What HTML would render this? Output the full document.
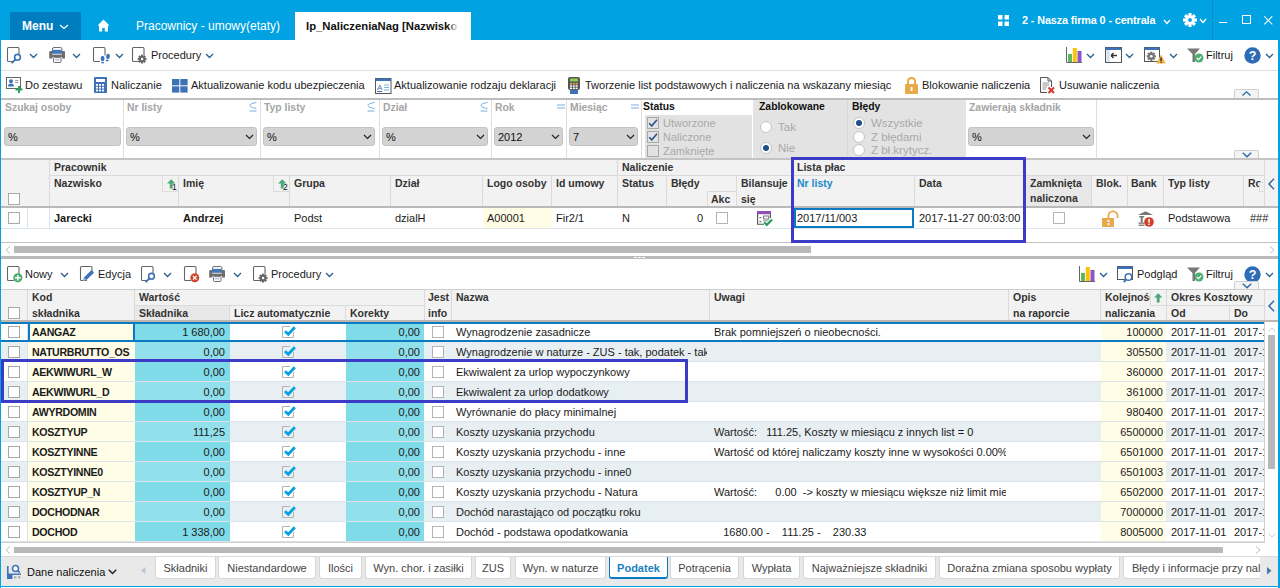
<!DOCTYPE html><html><head><meta charset="utf-8"><style>
*{box-sizing:border-box}
html,body{margin:0;padding:0}
body{width:1280px;height:588px;overflow:hidden;position:relative;background:#fff;font-family:"Liberation Sans",sans-serif;color:#1a1a1a}
.t{position:absolute;white-space:nowrap;font-size:11px;line-height:14px}
.b{font-weight:bold}
.hd{position:absolute;white-space:nowrap;font-size:10.5px;line-height:14px;font-weight:bold;color:#333}
.vl{position:absolute;width:1px;background:#d9d9d9}
.hl{position:absolute;height:1px;background:#d9d9d9}
svg{position:absolute;overflow:visible}
</style></head><body>
<div style="position:absolute;left:0px;top:0px;width:1280px;height:40px;background:#00a2e1"></div><div style="position:absolute;left:10px;top:12px;width:71px;height:28px;background:#007dbf;border-radius:2px 2px 0 0"></div><div class="t" style="left:22px;top:18px;font-size:12px;font-weight:bold;color:#fff;line-height:16px">Menu</div><svg style="position:absolute;left:59px;top:24px" width="10" height="6" viewBox="0 0 10 6"><path d="M1 1 L5.0 4.5 L9 1" fill="none" stroke="#fff" stroke-width="1.3"/></svg><svg style="left:97px;top:19px" width="13" height="13" viewBox="0 0 13 13"><path d="M6.5 0.5 L12.5 6.5 L11 6.5 L11 12.5 L7.8 12.5 L7.8 9 L5.2 9 L5.2 12.5 L2 12.5 L2 6.5 L0.5 6.5 Z" fill="#fff"/></svg><div class="t" style="left:136px;top:18px;font-size:12px;color:#fff;line-height:16px">Pracownicy - umowy(etaty)</div><div style="position:absolute;left:295px;top:12px;width:176px;height:28px;background:#fff"></div><div style="position:absolute;left:306px;top:18px;width:154px;height:16px;overflow:hidden;"><div class="t" style="left:0;top:0;font-size:11.3px;font-weight:bold;line-height:16px;color:#111">Ip_NaliczeniaNag [Nazwisko</div><div style="position:absolute;right:0;top:0;width:12px;height:16px;background:linear-gradient(90deg,rgba(255,255,255,0),#fff 85%)"></div></div><svg style="left:998px;top:15px" width="11" height="11" viewBox="0 0 11 11"><rect x="0" y="0" width="4.5" height="4.5" fill="#fff"/><rect x="6.5" y="0" width="4.5" height="4.5" fill="#fff"/><rect x="0" y="6.5" width="4.5" height="4.5" fill="#fff"/><rect x="6.5" y="6.5" width="4.5" height="4.5" fill="#fff"/></svg><div class="t" style="left:1022px;top:13px;font-size:10.8px;letter-spacing:-0.1px;font-weight:bold;color:#fff;line-height:14px">2 - Nasza firma 0 - centrala</div><svg style="position:absolute;left:1163px;top:19px" width="8" height="6" viewBox="0 0 8 6"><path d="M1 1 L4.0 4.5 L7 1" fill="none" stroke="#fff" stroke-width="1.3"/></svg><svg style="left:1183px;top:13px" width="14" height="14" viewBox="-7 -7 14 14"><g fill="#fff"><circle r="4.6"/><rect x="-1.6" y="-7" width="3.2" height="3.4" transform="rotate(0)"/><rect x="-1.6" y="-7" width="3.2" height="3.4" transform="rotate(45)"/><rect x="-1.6" y="-7" width="3.2" height="3.4" transform="rotate(90)"/><rect x="-1.6" y="-7" width="3.2" height="3.4" transform="rotate(135)"/><rect x="-1.6" y="-7" width="3.2" height="3.4" transform="rotate(180)"/><rect x="-1.6" y="-7" width="3.2" height="3.4" transform="rotate(225)"/><rect x="-1.6" y="-7" width="3.2" height="3.4" transform="rotate(270)"/><rect x="-1.6" y="-7" width="3.2" height="3.4" transform="rotate(315)"/></g><circle r="1.9" fill="#00a2e1"/></svg><svg style="position:absolute;left:1199px;top:18px" width="8" height="6" viewBox="0 0 8 6"><path d="M1 1 L4.0 4.5 L7 1" fill="none" stroke="#fff" stroke-width="1.3"/></svg><div style="position:absolute;left:1212px;top:0px;width:1px;height:40px;background:#0a8cc4"></div><div style="position:absolute;left:1219px;top:22px;width:8px;height:1.2px;background:#fff"></div><div style="position:absolute;left:1242px;top:15px;width:8.5px;height:8.5px;border:1.2px solid #fff"></div><svg style="left:1264px;top:16px" width="9" height="9" viewBox="0 0 9 9"><path d="M0.3 0.3 L8.3 8.3 M8.3 0.3 L0.3 8.3" stroke="#fff" stroke-width="1.1"/></svg><svg style="left:7px;top:47px" width="13" height="16" viewBox="0 0 13 16"><path d="M7 14.5 L1.5 14.5 Q0.5 14.5 0.5 13.5 L0.5 1.5 Q0.5 0.5 1.5 0.5 L11 0.5 Q12 0.5 12 1.5 L12 8.5" fill="none" stroke="#666" stroke-width="1.1"/></svg><svg style="left:0;top:0" width="1280" height="588" viewBox="0 0 1280 588" ><circle cx="17.5" cy="57.3" r="2.9" fill="#fff" stroke="#3d72b8" stroke-width="1.6"/><path d="M15.411999999999999 59.388 L12.2 62.599999999999994" stroke="#3d72b8" stroke-width="2" stroke-linecap="round"/></svg><svg style="position:absolute;left:29px;top:53px" width="9" height="6" viewBox="0 0 9 6"><path d="M1 1 L4.5 4.5 L8 1" fill="none" stroke="#2a5d8f" stroke-width="1.3"/></svg><svg style="left:49px;top:47px" width="17" height="16" viewBox="0 0 17 16"><path d="M3.5 3.5 L3.5 2 Q3.5 0.5 5 0.5 L11.5 0.5 Q13 0.5 13 2 L13 3.5" fill="none" stroke="#6e6e6e" stroke-width="1"/><path d="M1.3 4 L15 4 Q16 4 16 5 L16 11.5 L13 11.5 L13 10 L3.5 10 L3.5 11.5 L0.2 11.5 L0.2 5 Q0.2 4 1.3 4 Z" fill="#6e6e6e"/><rect x="3.2" y="2.8" width="9.6" height="4" fill="#4577bd"/><rect x="3.2" y="6.8" width="9.6" height="0.8" fill="#fff"/><rect x="4.5" y="10.6" width="7.5" height="4.9" rx="0.8" fill="#fff" stroke="#6e6e6e" stroke-width="1"/><rect x="6" y="12.2" width="4.5" height="1.2" fill="#9db8da"/></svg><svg style="position:absolute;left:72px;top:53px" width="9" height="6" viewBox="0 0 9 6"><path d="M1 1 L4.5 4.5 L8 1" fill="none" stroke="#2a5d8f" stroke-width="1.3"/></svg><svg style="left:93px;top:47px" width="13" height="16" viewBox="0 0 13 16"><path d="M7 14.5 L1.5 14.5 Q0.5 14.5 0.5 13.5 L0.5 1.5 Q0.5 0.5 1.5 0.5 L11 0.5 Q12 0.5 12 1.5 L12 8.5" fill="none" stroke="#666" stroke-width="1.1"/></svg><svg style="left:99.5px;top:55px" width="10" height="10" viewBox="0 0 10 10"><ellipse cx="2.6" cy="3.4" rx="1.9" ry="2.7" fill="#3d72b8"/><ellipse cx="2.6" cy="7.6" rx="1.5" ry="0.9" fill="#3d72b8"/><ellipse cx="8" cy="1.4" rx="1.9" ry="2.7" fill="#3d72b8" transform="rotate(10 8 1.4)"/><ellipse cx="7.2" cy="5.4" rx="1.5" ry="0.9" fill="#3d72b8"/></svg><svg style="position:absolute;left:115px;top:53px" width="9" height="6" viewBox="0 0 9 6"><path d="M1 1 L4.5 4.5 L8 1" fill="none" stroke="#2a5d8f" stroke-width="1.3"/></svg><svg style="left:132px;top:47px" width="13" height="16" viewBox="0 0 13 16"><path d="M7 14.5 L1.5 14.5 Q0.5 14.5 0.5 13.5 L0.5 1.5 Q0.5 0.5 1.5 0.5 L11 0.5 Q12 0.5 12 1.5 L12 8.5" fill="none" stroke="#666" stroke-width="1.1"/></svg><svg style="left:137.3px;top:53.6px" width="10.2" height="10.2" viewBox="-5.1 -5.1 10.2 10.2"><circle r="5.1" fill="#fff" opacity="0"/><g fill="#666"><circle r="3.1"/><rect x="-1.1" y="-4.4" width="2.2" height="2.4" transform="rotate(0)"/><rect x="-1.1" y="-4.4" width="2.2" height="2.4" transform="rotate(45)"/><rect x="-1.1" y="-4.4" width="2.2" height="2.4" transform="rotate(90)"/><rect x="-1.1" y="-4.4" width="2.2" height="2.4" transform="rotate(135)"/><rect x="-1.1" y="-4.4" width="2.2" height="2.4" transform="rotate(180)"/><rect x="-1.1" y="-4.4" width="2.2" height="2.4" transform="rotate(225)"/><rect x="-1.1" y="-4.4" width="2.2" height="2.4" transform="rotate(270)"/><rect x="-1.1" y="-4.4" width="2.2" height="2.4" transform="rotate(315)"/></g><circle r="1.2400000000000002" fill="#fff"/></svg><div class="t" style="left:151px;top:48px;font-size:11px">Procedury</div><svg style="position:absolute;left:205px;top:53px" width="9" height="6" viewBox="0 0 9 6"><path d="M1 1 L4.5 4.5 L8 1" fill="none" stroke="#2a5d8f" stroke-width="1.3"/></svg><svg style="left:1066px;top:47px" width="17" height="17" viewBox="0 0 17 17"><path d="M0.5 0 L0.5 15.5 L16 15.5" fill="none" stroke="#666" stroke-width="1"/><rect x="2" y="7" width="4" height="8" fill="#5cb85c"/><rect x="6.8" y="1" width="4" height="14" fill="#ffc107"/><rect x="11.5" y="4" width="4" height="11" fill="#8a55c7"/></svg><svg style="position:absolute;left:1086px;top:53px" width="9" height="6" viewBox="0 0 9 6"><path d="M1 1 L4.5 4.5 L8 1" fill="none" stroke="#2a5d8f" stroke-width="1.3"/></svg><svg style="left:1105px;top:47px" width="17" height="16" viewBox="0 0 17 16"><rect x="0.5" y="0.5" width="16" height="15" fill="#fff" stroke="#555"/><rect x="0.5" y="0.5" width="16" height="2.5" fill="#3d72b8"/><rect x="1.5" y="3" width="3" height="12" fill="#cfe3f3"/><path d="M6 8.5 L12 8.5 M6 8.5 L8.5 6 M6 8.5 L8.5 11" stroke="#333" stroke-width="1.4" fill="none"/></svg><svg style="position:absolute;left:1125px;top:53px" width="9" height="6" viewBox="0 0 9 6"><path d="M1 1 L4.5 4.5 L8 1" fill="none" stroke="#2a5d8f" stroke-width="1.3"/></svg><svg style="left:1144px;top:47px" width="21" height="18" viewBox="0 0 21 18"><rect x="0.5" y="0.5" width="15" height="14" fill="#fff" stroke="#555"/><rect x="0.5" y="0.5" width="15" height="2.5" fill="#3d72b8"/></svg><svg style="left:1145.7px;top:50.7px" width="10.6" height="10.6" viewBox="-5.3 -5.3 10.6 10.6"><circle r="5.3" fill="#fff" opacity="0"/><g fill="#777"><circle r="3.3"/><rect x="-1.1" y="-4.6" width="2.2" height="2.4" transform="rotate(0)"/><rect x="-1.1" y="-4.6" width="2.2" height="2.4" transform="rotate(45)"/><rect x="-1.1" y="-4.6" width="2.2" height="2.4" transform="rotate(90)"/><rect x="-1.1" y="-4.6" width="2.2" height="2.4" transform="rotate(135)"/><rect x="-1.1" y="-4.6" width="2.2" height="2.4" transform="rotate(180)"/><rect x="-1.1" y="-4.6" width="2.2" height="2.4" transform="rotate(225)"/><rect x="-1.1" y="-4.6" width="2.2" height="2.4" transform="rotate(270)"/><rect x="-1.1" y="-4.6" width="2.2" height="2.4" transform="rotate(315)"/></g><circle r="1.32" fill="#fff"/></svg><svg style="left:1156px;top:54px" width="10" height="10" viewBox="0 0 10 10"><path d="M5 0.5 L9.8 9.5 L0.2 9.5 Z" fill="#f0b44c"/><rect x="4.4" y="3.5" width="1.3" height="3.5" fill="#222"/><rect x="4.4" y="7.6" width="1.3" height="1.2" fill="#222"/></svg><svg style="position:absolute;left:1169px;top:53px" width="9" height="6" viewBox="0 0 9 6"><path d="M1 1 L4.5 4.5 L8 1" fill="none" stroke="#2a5d8f" stroke-width="1.3"/></svg><svg style="left:1187px;top:48px" width="17" height="15" viewBox="0 0 17 15"><path d="M0 0.5 L13 0.5 L8 6 L8 14 L5.5 14 L5.5 6 Z" fill="#777"/><circle cx="12" cy="10" r="4.5" fill="#4caf72"/><path d="M9.8 10 L11.5 11.7 L14.3 8.6" stroke="#fff" stroke-width="1.2" fill="none"/></svg><div class="t" style="left:1206px;top:48px;font-size:11px">Filtruj</div><svg style="left:1244px;top:47px" width="17" height="17" viewBox="0 0 17 17"><circle cx="8.5" cy="8.5" r="8.2" fill="#2d6db5"/><text x="8.5" y="13" text-anchor="middle" font-family="Liberation Sans" font-weight="bold" font-size="12.5" fill="#fff">?</text></svg><svg style="position:absolute;left:1265px;top:53px" width="9" height="6" viewBox="0 0 9 6"><path d="M1 1 L4.5 4.5 L8 1" fill="none" stroke="#2a5d8f" stroke-width="1.3"/></svg><div style="position:absolute;left:1px;top:70px;width:1277px;height:1px;background:#e0e0e0"></div><svg style="left:6px;top:77px" width="17" height="16" viewBox="0 0 17 16"><rect x="0.5" y="0.5" width="14" height="11" fill="#fff" stroke="#666"/><circle cx="5" cy="4.2" r="2" fill="#3d72b8"/><path d="M2 9.5 Q2 6.5 5 6.5 Q8 6.5 8 9.5 Z" fill="#3d72b8"/><path d="M9 3.5 L12.5 3.5 M9 5.5 L12.5 5.5" stroke="#888" stroke-width="0.8"/><path d="M13 9 L13 16 M9.5 12.5 L16.5 12.5" stroke="#2e9e5e" stroke-width="2"/></svg><div class="t" style="left:25px;top:78px;">Do zestawu</div><svg style="left:94px;top:77px" width="13" height="16" viewBox="0 0 13 16"><rect x="0" y="0" width="13" height="16" rx="1" fill="#3d72b8"/><rect x="2" y="2" width="9" height="3" fill="#fff"/><rect x="2" y="7.0" width="2" height="1.8" fill="#fff"/><rect x="2" y="9.8" width="2" height="1.8" fill="#fff"/><rect x="2" y="12.6" width="2" height="1.8" fill="#fff"/><rect x="5" y="7.0" width="2" height="1.8" fill="#fff"/><rect x="5" y="9.8" width="2" height="1.8" fill="#fff"/><rect x="5" y="12.6" width="2" height="1.8" fill="#fff"/><rect x="8" y="7.0" width="2" height="1.8" fill="#fff"/><rect x="8" y="9.8" width="2" height="1.8" fill="#fff"/><rect x="8" y="12.6" width="2" height="1.8" fill="#fff"/></svg><div class="t" style="left:111px;top:78px;">Naliczanie</div><svg style="left:172px;top:79px" width="16" height="14" viewBox="0 0 16 14"><rect x="0" y="0" width="7.3" height="6.3" fill="#3d72b8"/><rect x="8.3" y="0" width="7.3" height="6.3" fill="#3d72b8"/><rect x="0" y="7.3" width="7.3" height="6.3" fill="#3d72b8"/><rect x="8.3" y="7.3" width="7.3" height="6.3" fill="#3d72b8"/></svg><div class="t" style="left:191px;top:78px;">Aktualizowanie kodu ubezpieczenia</div><svg style="left:375px;top:78px" width="17" height="16" viewBox="0 0 17 16"><rect x="0.5" y="0.5" width="15.5" height="15" fill="#fff" stroke="#555"/><rect x="0.5" y="0.5" width="15.5" height="2.5" fill="#3d72b8"/><text x="2" y="12" font-family="Liberation Sans" font-size="8" fill="#3d72b8">A</text><path d="M9 7 L14 7 M9 9.5 L14 9.5 M9 12 L14 12" stroke="#7fb3e0" stroke-width="1.2"/><path d="M2 13.5 L7 13.5" stroke="#3d72b8" stroke-width="1"/></svg><div class="t" style="left:394px;top:78px;">Aktualizowanie rodzaju deklaracji</div><svg style="left:568px;top:77px" width="13" height="17" viewBox="0 0 13 17"><rect x="0" y="0" width="12" height="13" rx="2" fill="#555"/><rect x="2" y="1.5" width="8" height="3" fill="#8bd34a"/><rect x="2.0" y="6.0" width="2" height="1.5" fill="#f0b44c"/><rect x="2.0" y="8.3" width="2" height="1.5" fill="#fff"/><rect x="2.0" y="10.6" width="2" height="1.5" fill="#fff"/><rect x="4.8" y="6.0" width="2" height="1.5" fill="#f0b44c"/><rect x="4.8" y="8.3" width="2" height="1.5" fill="#fff"/><rect x="4.8" y="10.6" width="2" height="1.5" fill="#fff"/><rect x="7.6" y="6.0" width="2" height="1.5" fill="#f0b44c"/><rect x="7.6" y="8.3" width="2" height="1.5" fill="#fff"/><rect x="7.6" y="10.6" width="2" height="1.5" fill="#fff"/><rect x="2" y="13" width="8" height="4" fill="#3d72b8"/></svg><div class="t" style="left:585px;top:78px;">Tworzenie list podstawowych i naliczenia na wskazany miesiąc</div><svg style="left:905px;top:77px" width="13" height="17" viewBox="0 0 13 17"><path d="M3 8 L3 4.5 Q3 1 6.5 1 Q10 1 10 4.5 L10 8" fill="none" stroke="#e8a94a" stroke-width="2"/><rect x="0" y="7" width="13" height="10" rx="1" fill="#e8a94a"/><rect x="5.7" y="10" width="1.8" height="4" fill="#fff"/></svg><div class="t" style="left:922px;top:78px;">Blokowanie naliczenia</div><svg style="left:1040px;top:77px" width="15" height="17" viewBox="0 0 15 17"><path d="M0.5 0.5 L8 0.5 L11.5 4 L11.5 10 M7 15.5 L0.5 15.5 Z" fill="#fff" stroke="#555"/><path d="M0.5 0.5 L0.5 15.5" stroke="#555"/><path d="M8 0.5 L8 4 L11.5 4" fill="none" stroke="#555"/><path d="M2.5 6 L9 6 M2.5 8 L9 8 M2.5 10 L7 10 M2.5 12 L6 12" stroke="#777" stroke-width="0.8"/><path d="M8.5 10.5 L14 16 M14 10.5 L8.5 16" stroke="#d6332a" stroke-width="2"/></svg><div class="t" style="left:1059px;top:78px;">Usuwanie naliczenia</div><div style="position:absolute;left:1px;top:98px;width:1277px;height:2px;background:#bdbdbd"></div><div style="position:absolute;left:123px;top:100px;width:1px;height:58px;background:#dedede"></div><div style="position:absolute;left:260px;top:100px;width:1px;height:58px;background:#dedede"></div><div style="position:absolute;left:379px;top:100px;width:1px;height:58px;background:#dedede"></div><div style="position:absolute;left:491px;top:100px;width:1px;height:58px;background:#dedede"></div><div style="position:absolute;left:566px;top:100px;width:1px;height:58px;background:#dedede"></div><div style="position:absolute;left:641px;top:100px;width:1px;height:58px;background:#dedede"></div><div class="hd" style="left:5px;top:101px;color:#a5a5a5;font-size:10.4px">Szukaj osoby</div><div style="position:absolute;left:4px;top:127px;width:117px;height:19px;background:#d3d3d3;border:1px solid #c2c2c2;border-radius:3px"></div><div class="t" style="left:8px;top:130px;font-size:11px;color:#111">%</div><div class="hd" style="left:127px;top:101px;color:#a5a5a5;font-size:10.4px">Nr listy</div><svg style="left:249px;top:102px" width="8" height="10" viewBox="0 0 8 10"><path d="M7.5 0.5 Q1 1.5 1 3.5 Q1 5.5 7.5 6.5 M0.5 9 L7.5 9" fill="none" stroke="#7aaee0" stroke-width="1"/></svg><div style="position:absolute;left:126px;top:127px;width:131px;height:19px;background:#d3d3d3;border:1px solid #c2c2c2;border-radius:3px"></div><div class="t" style="left:130px;top:130px;font-size:11px;color:#111">%</div><svg style="left:245px;top:134px" width="9" height="6" viewBox="0 0 9 6"><path d="M1 1 L4.5 4.5 L8 1" fill="none" stroke="#222" stroke-width="1.2"/></svg><div class="hd" style="left:264px;top:101px;color:#a5a5a5;font-size:10.4px">Typ listy</div><svg style="left:367px;top:102px" width="8" height="10" viewBox="0 0 8 10"><path d="M7.5 0.5 Q1 1.5 1 3.5 Q1 5.5 7.5 6.5 M0.5 9 L7.5 9" fill="none" stroke="#7aaee0" stroke-width="1"/></svg><div style="position:absolute;left:263px;top:127px;width:112px;height:19px;background:#d3d3d3;border:1px solid #c2c2c2;border-radius:3px"></div><div class="t" style="left:267px;top:130px;font-size:11px;color:#111">%</div><svg style="left:363px;top:134px" width="9" height="6" viewBox="0 0 9 6"><path d="M1 1 L4.5 4.5 L8 1" fill="none" stroke="#222" stroke-width="1.2"/></svg><div class="hd" style="left:383px;top:101px;color:#a5a5a5;font-size:10.4px">Dział</div><svg style="left:480px;top:102px" width="8" height="10" viewBox="0 0 8 10"><path d="M7.5 0.5 Q1 1.5 1 3.5 Q1 5.5 7.5 6.5 M0.5 9 L7.5 9" fill="none" stroke="#7aaee0" stroke-width="1"/></svg><div style="position:absolute;left:382px;top:127px;width:106px;height:19px;background:#d3d3d3;border:1px solid #c2c2c2;border-radius:3px"></div><div class="t" style="left:386px;top:130px;font-size:11px;color:#111">%</div><svg style="left:476px;top:134px" width="9" height="6" viewBox="0 0 9 6"><path d="M1 1 L4.5 4.5 L8 1" fill="none" stroke="#222" stroke-width="1.2"/></svg><div class="hd" style="left:495px;top:101px;color:#a5a5a5;font-size:10.4px">Rok</div><svg style="left:557px;top:104px" width="8" height="5" viewBox="0 0 8 5"><path d="M0 1 L8 1 M0 4 L8 4" stroke="#7aaee0" stroke-width="1"/></svg><div style="position:absolute;left:494px;top:127px;width:69px;height:19px;background:#d3d3d3;border:1px solid #c2c2c2;border-radius:3px"></div><div class="t" style="left:498px;top:130px;font-size:11px;color:#111">2012</div><svg style="left:551px;top:134px" width="9" height="6" viewBox="0 0 9 6"><path d="M1 1 L4.5 4.5 L8 1" fill="none" stroke="#222" stroke-width="1.2"/></svg><div class="hd" style="left:570px;top:101px;color:#a5a5a5;font-size:10.4px">Miesiąc</div><svg style="left:631px;top:104px" width="8" height="5" viewBox="0 0 8 5"><path d="M0 1 L8 1 M0 4 L8 4" stroke="#7aaee0" stroke-width="1"/></svg><div style="position:absolute;left:569px;top:127px;width:69px;height:19px;background:#d3d3d3;border:1px solid #c2c2c2;border-radius:3px"></div><div class="t" style="left:573px;top:130px;font-size:11px;color:#111">7</div><svg style="left:626px;top:134px" width="9" height="6" viewBox="0 0 9 6"><path d="M1 1 L4.5 4.5 L8 1" fill="none" stroke="#222" stroke-width="1.2"/></svg><div class="hd" style="left:643px;top:100px;color:#111;font-size:10.4px">Status</div><div style="position:absolute;left:645px;top:115px;width:107px;height:43px;background:#e2e2e2"></div><div style="position:absolute;left:647px;top:117px;width:12px;height:12px;border:1px solid #a8a8a8;background:#e2e2e2"></div><svg style="left:647px;top:117px" width="12" height="12" viewBox="0 0 12 12"><path d="M2.2 6.2 L4.8 8.8 L10 2.8" fill="none" stroke="#20508c" stroke-width="1.5"/></svg><div class="t" style="left:663px;top:116px;color:#a9a9a9">Utworzone</div><div style="position:absolute;left:647px;top:131px;width:12px;height:12px;border:1px solid #a8a8a8;background:#e2e2e2"></div><svg style="left:647px;top:131px" width="12" height="12" viewBox="0 0 12 12"><path d="M2.2 6.2 L4.8 8.8 L10 2.8" fill="none" stroke="#20508c" stroke-width="1.5"/></svg><div class="t" style="left:663px;top:130px;color:#a9a9a9">Naliczone</div><div style="position:absolute;left:647px;top:145px;width:12px;height:12px;border:1px solid #a8a8a8;background:#e2e2e2"></div><div class="t" style="left:663px;top:144px;color:#a9a9a9">Zamknięte</div><div style="position:absolute;left:753px;top:100px;width:213px;height:58px;background:#e3e3e3"></div><div style="position:absolute;left:847px;top:100px;width:1px;height:58px;background:#d6d6d6"></div><div class="hd" style="left:759px;top:100px;color:#111;font-size:10.4px">Zablokowane</div><div style="position:absolute;left:760px;top:121px;width:12px;height:12px;border-radius:50%;border:1px solid #c4c4c4;background:#fff"></div><div class="t" style="left:778px;top:120px;color:#a9a9a9;font-size:11.5px">Tak</div><div style="position:absolute;left:760px;top:142px;width:12px;height:12px;border-radius:50%;border:1px solid #c4c4c4;background:#fff"></div><div style="position:absolute;left:763px;top:145px;width:6px;height:6px;border-radius:50%;background:#1e4f8a"></div><div class="t" style="left:778px;top:141px;color:#a9a9a9;font-size:11.5px">Nie</div><div class="hd" style="left:852px;top:100px;color:#111;font-size:10.4px">Błędy</div><div style="position:absolute;left:853px;top:117px;width:12px;height:12px;border-radius:50%;border:1px solid #c4c4c4;background:#fff"></div><div style="position:absolute;left:856px;top:120px;width:6px;height:6px;border-radius:50%;background:#1e4f8a"></div><div class="t" style="left:871px;top:116px;color:#a9a9a9;font-size:11.5px">Wszystkie</div><div style="position:absolute;left:853px;top:131px;width:12px;height:12px;border-radius:50%;border:1px solid #c4c4c4;background:#fff"></div><div class="t" style="left:871px;top:130px;color:#a9a9a9;font-size:11.5px">Z błędami</div><div style="position:absolute;left:853px;top:144px;width:12px;height:12px;border-radius:50%;border:1px solid #c4c4c4;background:#fff"></div><div class="t" style="left:871px;top:143px;color:#a9a9a9;font-size:11.5px">Z bł.krytycz.</div><div class="hd" style="left:969px;top:101px;color:#a5a5a5;font-size:10.4px">Zawierają składnik</div><div style="position:absolute;left:968px;top:127px;width:126px;height:19px;background:#d3d3d3;border:1px solid #c2c2c2;border-radius:3px"></div><div class="t" style="left:972px;top:130px;font-size:11px;color:#111">%</div><svg style="left:1082px;top:134px" width="9" height="6" viewBox="0 0 9 6"><path d="M1 1 L4.5 4.5 L8 1" fill="none" stroke="#222" stroke-width="1.2"/></svg><div style="position:absolute;left:1096px;top:100px;width:1px;height:58px;background:#dedede"></div><div style="position:absolute;left:1234px;top:89px;width:25px;height:9px;background:#f4f4f4;border:1px solid #cfcfcf;border-bottom:none;border-radius:2px 2px 0 0"></div><svg style="left:1242px;top:91px" width="9" height="5" viewBox="0 0 9 5"><path d="M0.5 4.5 L4.5 0.8 L8.5 4.5" fill="none" stroke="#2b66a8" stroke-width="1.3"/></svg><div style="position:absolute;left:1234px;top:150px;width:25px;height:9px;background:#f4f4f4;border:1px solid #cfcfcf;border-bottom:none;border-radius:2px 2px 0 0"></div><svg style="left:1242px;top:152px" width="10" height="6" viewBox="0 0 10 6"><path d="M0.8 0.8 L5 4.8 L9.2 0.8" fill="none" stroke="#2b66a8" stroke-width="1.4"/></svg><div style="position:absolute;left:1px;top:158px;width:1277px;height:2px;background:#c4c4c4"></div><div style="position:absolute;left:1px;top:160px;width:1263px;height:46px;background:#f2f2f2"></div><div style="position:absolute;left:1px;top:206px;width:1277px;height:2px;background:#b9b9b9"></div><div style="position:absolute;left:49px;top:160px;width:1px;height:46px;background:#dadada"></div><div style="position:absolute;left:50px;top:175px;width:568px;height:1px;background:#dadada"></div><div class="hd" style="left:54px;top:160px">Pracownik</div><div class="hd" style="left:54px;top:176px">Nazwisko</div><div style="position:absolute;left:162px;top:176px;width:16px;height:16px;border-left:1px solid #dcdcdc;border-bottom:1px solid #dcdcdc;background:#f2f2f2"></div><svg style="left:167px;top:179px" width="9" height="10" viewBox="0 0 9 10"><path d="M4.2 0.2 L8.4 4.6 L5.6 4.6 L5.6 9.5 L2.8 9.5 L2.8 4.6 L0 4.6 Z" fill="#4aa878"/></svg><div class="t" style="left:172px;top:183px;font-size:8.5px;line-height:9px;color:#111">1</div><div style="position:absolute;left:178px;top:176px;width:1px;height:30px;background:#dadada"></div><div class="hd" style="left:183px;top:176px">Imię</div><div style="position:absolute;left:273px;top:176px;width:16px;height:16px;border-left:1px solid #dcdcdc;border-bottom:1px solid #dcdcdc;background:#f2f2f2"></div><svg style="left:278px;top:179px" width="9" height="10" viewBox="0 0 9 10"><path d="M4.2 0.2 L8.4 4.6 L5.6 4.6 L5.6 9.5 L2.8 9.5 L2.8 4.6 L0 4.6 Z" fill="#4aa878"/></svg><div class="t" style="left:283px;top:183px;font-size:8.5px;line-height:9px;color:#111">2</div><div style="position:absolute;left:289px;top:176px;width:1px;height:30px;background:#dadada"></div><div class="hd" style="left:294px;top:176px">Grupa</div><div style="position:absolute;left:390px;top:176px;width:1px;height:30px;background:#dadada"></div><div class="hd" style="left:395px;top:176px">Dział</div><div style="position:absolute;left:482px;top:176px;width:1px;height:30px;background:#dadada"></div><div class="hd" style="left:487px;top:176px">Logo osoby</div><div style="position:absolute;left:551px;top:176px;width:1px;height:30px;background:#dadada"></div><div class="hd" style="left:556px;top:176px">Id umowy</div><div style="position:absolute;left:617px;top:160px;width:1px;height:46px;background:#dadada"></div><div style="position:absolute;left:618px;top:175px;width:173px;height:1px;background:#dadada"></div><div class="hd" style="left:622px;top:160px">Naliczenie</div><div class="hd" style="left:622px;top:176px">Status</div><div style="position:absolute;left:666px;top:176px;width:1px;height:30px;background:#dadada"></div><div class="hd" style="left:671px;top:176px">Błędy</div><div style="position:absolute;left:708px;top:191px;width:28px;height:1px;background:#dadada"></div><div style="position:absolute;left:707px;top:191px;width:1px;height:15px;background:#dadada"></div><div class="hd" style="left:711px;top:192px">Akc</div><div style="position:absolute;left:736px;top:176px;width:1px;height:30px;background:#dadada"></div><div class="hd" style="left:741px;top:176px">Bilansuje</div><div class="hd" style="left:741px;top:192px">się</div><div style="position:absolute;left:791px;top:160px;width:1px;height:46px;background:#dadada"></div><div style="position:absolute;left:792px;top:175px;width:234px;height:1px;background:#dadada"></div><div class="hd" style="left:797px;top:160px">Lista płac</div><div class="hd" style="left:797px;top:176px;color:#1b8ac9">Nr listy</div><div style="position:absolute;left:914px;top:176px;width:1px;height:30px;background:#dadada"></div><div class="hd" style="left:919px;top:176px">Data</div><div style="position:absolute;left:1025px;top:160px;width:1px;height:46px;background:#dadada"></div><div style="position:absolute;left:1026px;top:176px;width:65px;height:30px;background:#e8e8e8"></div><div style="position:absolute;left:1026px;top:175px;width:238px;height:1px;background:#dadada"></div><div class="hd" style="left:1030px;top:176px">Zamknięta</div><div class="hd" style="left:1030px;top:191px">naliczona</div><div style="position:absolute;left:1091px;top:176px;width:1px;height:30px;background:#dadada"></div><div class="hd" style="left:1096px;top:176px">Blok.</div><div style="position:absolute;left:1127px;top:176px;width:1px;height:30px;background:#dadada"></div><div class="hd" style="left:1131px;top:176px">Bank</div><div style="position:absolute;left:1163px;top:176px;width:1px;height:30px;background:#dadada"></div><div class="hd" style="left:1168px;top:176px">Typ listy</div><div style="position:absolute;left:1243px;top:176px;width:1px;height:30px;background:#dadada"></div><div style="position:absolute;left:1244px;top:176px;width:20px;height:30px;overflow:hidden"><div class="hd" style="left:4px;top:0">Ro</div></div><div style="position:absolute;left:1259px;top:182px;width:6px;height:10px;border:1px solid #dcdcdc;border-right:none;background:#f2f2f2"></div><div style="position:absolute;left:1264px;top:160px;width:1px;height:46px;background:#dadada"></div><div style="position:absolute;left:1265px;top:160px;width:13px;height:46px;background:#f2f2f2"></div><svg style="left:1268px;top:178px" width="7" height="12" viewBox="0 0 7 12"><path d="M6 0.8 L1 6 L6 11.2" fill="none" stroke="#2b66a8" stroke-width="1.4"/></svg><div style="position:absolute;left:8px;top:193px;width:12px;height:12px;border:1px solid #a8a8a8;background:#fff"></div><div style="position:absolute;left:483px;top:208px;width:69px;height:20px;background:#fffde6"></div><div style="position:absolute;left:27px;top:208px;width:1px;height:20px;background:#d6e4f2"></div><div style="position:absolute;left:49px;top:208px;width:1px;height:20px;background:#d6e4f2"></div><div style="position:absolute;left:1px;top:228px;width:1277px;height:1px;background:#dde6ee"></div><div style="position:absolute;left:8px;top:212px;width:12px;height:12px;border:1px solid #a8a8a8;background:#fff"></div><div class="t" style="left:54px;top:211px;font-weight:bold">Jarecki</div><div class="t" style="left:183px;top:211px;font-weight:bold">Andrzej</div><div class="t" style="left:294px;top:211px;">Podst</div><div class="t" style="left:395px;top:211px;">dzialH</div><div class="t" style="left:487px;top:211px;">A00001</div><div class="t" style="left:556px;top:211px;">Fir2/1</div><div class="t" style="left:622px;top:211px;">N</div><div class="t" style="left:666px;width:37px;text-align:right;top:211px">0</div><div style="position:absolute;left:716px;top:212px;width:12px;height:12px;border:1px solid #b5b5b5;background:#fff"></div><svg style="left:757px;top:211px" width="16" height="16" viewBox="0 0 16 16"><rect x="0" y="0" width="14" height="3.2" fill="#8e4fb5"/><path d="M0.6 3 L0.6 13.3 L7 13.3 M13.4 3 L13.4 7" fill="none" stroke="#555" stroke-width="1.1"/><rect x="2.4" y="6" width="2" height="1.1" fill="#666"/><rect x="6.6" y="5" width="5.2" height="3" fill="none" stroke="#666" stroke-width="0.9"/><path d="M6 9.8 L11.5 9.8" stroke="#888" stroke-width="0.9"/><rect x="2.4" y="10" width="2" height="1.1" fill="#666"/><path d="M7.3 11.2 L9.8 13.9 L15 8.6" fill="none" stroke="#1f9e5a" stroke-width="2.2"/></svg><div style="position:absolute;left:794px;top:208px;width:120px;height:20px;border:2px solid #0b7ac0;background:#fff"></div><div class="t" style="left:797px;top:211px;">2017/11/003</div><div class="t" style="left:919px;top:211px;">2017-11-27 00:03:00</div><div style="position:absolute;left:1053px;top:212px;width:12px;height:12px;border:1px solid #b5b5b5;background:#fff"></div><svg style="left:1101px;top:211px" width="18" height="16" viewBox="0 0 18 16"><path d="M7.4 7.5 L7.4 5 A4.6 4.6 0 0 1 16.6 5 L16.6 7" fill="none" stroke="#e8a94a" stroke-width="1.8"/><rect x="1" y="7" width="12" height="9" fill="#e8a94a"/><rect x="6.6" y="9" width="1.9" height="2" fill="#fff"/><rect x="6.6" y="12.2" width="1.9" height="2" fill="#fff"/></svg><svg style="left:1137px;top:211px" width="18" height="16" viewBox="0 0 18 16"><path d="M1 4 L8.5 0.3 L16 4 Z" fill="#777"/><rect x="2.2" y="5" width="5" height="1.4" fill="#777"/><rect x="3.7" y="5" width="2" height="6.5" fill="#777"/><rect x="1.5" y="11.5" width="6" height="1.3" fill="#777"/><rect x="1.5" y="13.6" width="6" height="1.3" fill="#777"/><circle cx="12" cy="11" r="4.8" fill="#d0402a"/><rect x="11.2" y="8" width="1.6" height="3.6" fill="#fff"/><rect x="11.2" y="12.6" width="1.6" height="1.4" fill="#fff"/></svg><div class="t" style="left:1168px;top:211px;">Podstawowa</div><div class="t" style="left:1250px;top:211px;">###</div><div style="position:absolute;left:1px;top:242px;width:1277px;height:1px;background:#c2c2c2"></div><svg style="left:5px;top:246px" width="6" height="8" viewBox="0 0 6 8"><path d="M5 0.5 L1 4 L5 7.5" fill="none" stroke="#bbb" stroke-width="1"/></svg><div style="position:absolute;left:14px;top:246px;width:797px;height:7px;background:#b8b8b8"></div><svg style="left:1269px;top:246px" width="6" height="8" viewBox="0 0 6 8"><path d="M1 0.5 L5 4 L1 7.5" fill="none" stroke="#bbb" stroke-width="1"/></svg><div style="position:absolute;left:1px;top:256px;width:1277px;height:3px;background:#bababa"></div><div style="position:absolute;left:634px;top:257px;width:3px;height:1px;background:#fff"></div><div style="position:absolute;left:638px;top:257px;width:3px;height:1px;background:#fff"></div><div style="position:absolute;left:642px;top:257px;width:3px;height:1px;background:#fff"></div><div style="position:absolute;left:791px;top:157px;width:235px;height:86px;border:3px solid #3b3bc6"></div><svg style="left:7px;top:266px" width="13" height="16" viewBox="0 0 13 16"><path d="M7 14.5 L1.5 14.5 Q0.5 14.5 0.5 13.5 L0.5 1.5 Q0.5 0.5 1.5 0.5 L11 0.5 Q12 0.5 12 1.5 L12 8.5" fill="none" stroke="#666" stroke-width="1.1"/></svg><svg style="left:13px;top:273px" width="10" height="10" viewBox="0 0 10 10"><circle cx="4.8" cy="4.8" r="4.6" fill="#4caf72"/><path d="M4.8 2 L4.8 7.6 M2 4.8 L7.6 4.8" stroke="#fff" stroke-width="1.4"/></svg><div class="t" style="left:25px;top:267px;">Nowy</div><svg style="position:absolute;left:60px;top:272px" width="9" height="6" viewBox="0 0 9 6"><path d="M1 1 L4.5 4.5 L8 1" fill="none" stroke="#2a5d8f" stroke-width="1.3"/></svg><svg style="left:80px;top:266px" width="13" height="16" viewBox="0 0 13 16"><path d="M7 14.5 L1.5 14.5 Q0.5 14.5 0.5 13.5 L0.5 1.5 Q0.5 0.5 1.5 0.5 L11 0.5 Q12 0.5 12 1.5 L12 8.5" fill="none" stroke="#666" stroke-width="1.1"/></svg><svg style="left:82px;top:269px" width="13" height="13" viewBox="0 0 13 13"><path d="M1 12 L2 8.5 L9.5 1 L12 3.5 L4.5 11 Z" fill="#3d72b8"/><path d="M1 12 L2 8.5 L4.5 11 Z" fill="#9db8da"/></svg><div class="t" style="left:98px;top:267px;">Edycja</div><svg style="left:141px;top:266px" width="13" height="16" viewBox="0 0 13 16"><path d="M7 14.5 L1.5 14.5 Q0.5 14.5 0.5 13.5 L0.5 1.5 Q0.5 0.5 1.5 0.5 L11 0.5 Q12 0.5 12 1.5 L12 8.5" fill="none" stroke="#666" stroke-width="1.1"/></svg><svg style="left:0;top:0" width="1280" height="588" viewBox="0 0 1280 588" ><circle cx="151.5" cy="276.3" r="2.9" fill="#fff" stroke="#3d72b8" stroke-width="1.6"/><path d="M149.412 278.38800000000003 L146.2 281.59999999999997" stroke="#3d72b8" stroke-width="2" stroke-linecap="round"/></svg><svg style="position:absolute;left:163px;top:272px" width="9" height="6" viewBox="0 0 9 6"><path d="M1 1 L4.5 4.5 L8 1" fill="none" stroke="#2a5d8f" stroke-width="1.3"/></svg><svg style="left:184px;top:266px" width="13" height="16" viewBox="0 0 13 16"><path d="M7 14.5 L1.5 14.5 Q0.5 14.5 0.5 13.5 L0.5 1.5 Q0.5 0.5 1.5 0.5 L11 0.5 Q12 0.5 12 1.5 L12 8.5" fill="none" stroke="#666" stroke-width="1.1"/></svg><svg style="left:190px;top:273px" width="10" height="10" viewBox="0 0 10 10"><circle cx="4.8" cy="4.8" r="4.5" fill="#d2452e"/><path d="M3 3 L6.6 6.6 M6.6 3 L3 6.6" stroke="#fff" stroke-width="1.2"/></svg><svg style="left:209px;top:266px" width="17" height="16" viewBox="0 0 17 16"><path d="M3.5 3.5 L3.5 2 Q3.5 0.5 5 0.5 L11.5 0.5 Q13 0.5 13 2 L13 3.5" fill="none" stroke="#6e6e6e" stroke-width="1"/><path d="M1.3 4 L15 4 Q16 4 16 5 L16 11.5 L13 11.5 L13 10 L3.5 10 L3.5 11.5 L0.2 11.5 L0.2 5 Q0.2 4 1.3 4 Z" fill="#6e6e6e"/><rect x="3.2" y="2.8" width="9.6" height="4" fill="#4577bd"/><rect x="3.2" y="6.8" width="9.6" height="0.8" fill="#fff"/><rect x="4.5" y="10.6" width="7.5" height="4.9" rx="0.8" fill="#fff" stroke="#6e6e6e" stroke-width="1"/><rect x="6" y="12.2" width="4.5" height="1.2" fill="#9db8da"/></svg><svg style="position:absolute;left:233px;top:272px" width="9" height="6" viewBox="0 0 9 6"><path d="M1 1 L4.5 4.5 L8 1" fill="none" stroke="#2a5d8f" stroke-width="1.3"/></svg><svg style="left:253px;top:266px" width="13" height="16" viewBox="0 0 13 16"><path d="M7 14.5 L1.5 14.5 Q0.5 14.5 0.5 13.5 L0.5 1.5 Q0.5 0.5 1.5 0.5 L11 0.5 Q12 0.5 12 1.5 L12 8.5" fill="none" stroke="#666" stroke-width="1.1"/></svg><svg style="left:258.29999999999995px;top:272.59999999999997px" width="10.2" height="10.2" viewBox="-5.1 -5.1 10.2 10.2"><circle r="5.1" fill="#fff" opacity="0"/><g fill="#666"><circle r="3.1"/><rect x="-1.1" y="-4.4" width="2.2" height="2.4" transform="rotate(0)"/><rect x="-1.1" y="-4.4" width="2.2" height="2.4" transform="rotate(45)"/><rect x="-1.1" y="-4.4" width="2.2" height="2.4" transform="rotate(90)"/><rect x="-1.1" y="-4.4" width="2.2" height="2.4" transform="rotate(135)"/><rect x="-1.1" y="-4.4" width="2.2" height="2.4" transform="rotate(180)"/><rect x="-1.1" y="-4.4" width="2.2" height="2.4" transform="rotate(225)"/><rect x="-1.1" y="-4.4" width="2.2" height="2.4" transform="rotate(270)"/><rect x="-1.1" y="-4.4" width="2.2" height="2.4" transform="rotate(315)"/></g><circle r="1.2400000000000002" fill="#fff"/></svg><div class="t" style="left:271px;top:267px;">Procedury</div><svg style="position:absolute;left:325px;top:272px" width="9" height="6" viewBox="0 0 9 6"><path d="M1 1 L4.5 4.5 L8 1" fill="none" stroke="#2a5d8f" stroke-width="1.3"/></svg><svg style="left:1079px;top:266px" width="17" height="17" viewBox="0 0 17 17"><path d="M0.5 0 L0.5 15.5 L16 15.5" fill="none" stroke="#666" stroke-width="1"/><rect x="2" y="7" width="4" height="8" fill="#5cb85c"/><rect x="6.8" y="1" width="4" height="14" fill="#ffc107"/><rect x="11.5" y="4" width="4" height="11" fill="#8a55c7"/></svg><svg style="position:absolute;left:1099px;top:272px" width="9" height="6" viewBox="0 0 9 6"><path d="M1 1 L4.5 4.5 L8 1" fill="none" stroke="#2a5d8f" stroke-width="1.3"/></svg><svg style="left:1117px;top:266px" width="17" height="17" viewBox="0 0 17 17"><rect x="0.5" y="0.5" width="15" height="13" fill="#fff" stroke="#555"/><rect x="0.5" y="0.5" width="15" height="2.5" fill="#3d72b8"/><circle cx="11.5" cy="11" r="3.3" fill="#fff" stroke="#3d72b8" stroke-width="1.5"/><path d="M9.2 13.3 L6.8 16" stroke="#3d72b8" stroke-width="2"/></svg><div class="t" style="left:1137px;top:267px;">Podgląd</div><svg style="left:1187px;top:267px" width="17" height="15" viewBox="0 0 17 15"><path d="M0 0.5 L13 0.5 L8 6 L8 14 L5.5 14 L5.5 6 Z" fill="#777"/><circle cx="12" cy="10" r="4.5" fill="#4caf72"/><path d="M9.8 10 L11.5 11.7 L14.3 8.6" stroke="#fff" stroke-width="1.2" fill="none"/></svg><div class="t" style="left:1206px;top:267px;">Filtruj</div><svg style="left:1244px;top:266px" width="17" height="17" viewBox="0 0 17 17"><circle cx="8.5" cy="8.5" r="8.2" fill="#2d6db5"/><text x="8.5" y="13" text-anchor="middle" font-family="Liberation Sans" font-weight="bold" font-size="12.5" fill="#fff">?</text></svg><svg style="position:absolute;left:1265px;top:272px" width="9" height="6" viewBox="0 0 9 6"><path d="M1 1 L4.5 4.5 L8 1" fill="none" stroke="#2a5d8f" stroke-width="1.3"/></svg><div style="position:absolute;left:1234px;top:281px;width:25px;height:9px;background:#f4f4f4;border:1px solid #cfcfcf;border-bottom:none;border-radius:2px 2px 0 0"></div><svg style="left:1242px;top:283px" width="10" height="6" viewBox="0 0 10 6"><path d="M0.8 0.8 L5 4.8 L9.2 0.8" fill="none" stroke="#2b66a8" stroke-width="1.4"/></svg><div style="position:absolute;left:1px;top:289px;width:1277px;height:1px;background:#cdcdcd"></div><div style="position:absolute;left:1px;top:290px;width:1277px;height:30px;background:#f2f2f2"></div><div style="position:absolute;left:1px;top:320px;width:1277px;height:2px;background:#bdb6b0"></div><div style="position:absolute;left:27px;top:290px;width:1px;height:30px;background:#dadada"></div><div class="hd" style="left:32px;top:290px">Kod</div><div class="hd" style="left:32px;top:306px">składnika</div><div style="position:absolute;left:134px;top:290px;width:1px;height:30px;background:#dadada"></div><div class="hd" style="left:139px;top:290px">Wartość</div><div style="position:absolute;left:135px;top:305px;width:289px;height:1px;background:#dadada"></div><div style="position:absolute;left:135px;top:306px;width:94px;height:14px;background:#e8e8e8"></div><div class="hd" style="left:139px;top:306px">Składnika</div><div style="position:absolute;left:229px;top:306px;width:1px;height:14px;background:#dadada"></div><div class="hd" style="left:234px;top:306px">Licz automatycznie</div><div style="position:absolute;left:345px;top:306px;width:1px;height:14px;background:#dadada"></div><div class="hd" style="left:350px;top:306px">Korekty</div><div style="position:absolute;left:424px;top:290px;width:1px;height:30px;background:#dadada"></div><div class="hd" style="left:428px;top:290px">Jest</div><div class="hd" style="left:428px;top:306px">info</div><div style="position:absolute;left:451px;top:290px;width:1px;height:30px;background:#dadada"></div><div class="hd" style="left:456px;top:290px">Nazwa</div><div style="position:absolute;left:709px;top:290px;width:1px;height:30px;background:#dadada"></div><div class="hd" style="left:714px;top:290px">Uwagi</div><div style="position:absolute;left:1008px;top:290px;width:1px;height:30px;background:#dadada"></div><div class="hd" style="left:1013px;top:290px">Opis</div><div class="hd" style="left:1013px;top:306px">na raporcie</div><div style="position:absolute;left:1100px;top:290px;width:1px;height:30px;background:#dadada"></div><div style="position:absolute;left:1101px;top:290px;width:50px;height:15px;overflow:hidden"><div class="hd" style="left:4px;top:0">Kolejność</div></div><div class="hd" style="left:1105px;top:306px">naliczania</div><div style="position:absolute;left:1150px;top:290px;width:16px;height:16px;border:1px solid #dcdcdc;border-top:none;border-right:none;background:#f2f2f2"></div><svg style="left:1154px;top:293px" width="9" height="10" viewBox="0 0 9 10"><path d="M4.2 0.2 L8.4 4.6 L5.6 4.6 L5.6 9.5 L2.8 9.5 L2.8 4.6 L0 4.6 Z" fill="#4aa878"/></svg><div style="position:absolute;left:1166px;top:290px;width:1px;height:30px;background:#dadada"></div><div class="hd" style="left:1171px;top:290px">Okres Kosztowy</div><div style="position:absolute;left:1167px;top:305px;width:97px;height:1px;background:#dadada"></div><div class="hd" style="left:1171px;top:306px">Od</div><div style="position:absolute;left:1229px;top:306px;width:1px;height:14px;background:#dadada"></div><div class="hd" style="left:1234px;top:306px">Do</div><div style="position:absolute;left:1264px;top:290px;width:1px;height:30px;background:#dadada"></div><svg style="left:1268px;top:300px" width="7" height="12" viewBox="0 0 7 12"><path d="M6 0.8 L1 6 L6 11.2" fill="none" stroke="#2b66a8" stroke-width="1.4"/></svg><div style="position:absolute;left:8px;top:307px;width:12px;height:12px;border:1px solid #a8a8a8;background:#fff"></div><div style="position:absolute;left:1px;top:322px;width:1263px;height:20px;background:#fff"></div><div style="position:absolute;left:28px;top:322px;width:107px;height:20px;background:#fffde6"></div><div style="position:absolute;left:135px;top:322px;width:95px;height:20px;background:#80dbe9"></div><div style="position:absolute;left:346px;top:322px;width:78px;height:20px;background:#80dbe9"></div><div style="position:absolute;left:1101px;top:322px;width:65px;height:20px;background:#fffde6"></div><div style="position:absolute;left:1px;top:341px;width:1263px;height:1px;background:#dde3e8"></div><div style="position:absolute;left:27px;top:322px;width:1px;height:19px;background:#d3e2f0"></div><div style="position:absolute;left:8px;top:326px;width:12px;height:12px;border:1px solid #a8a8a8;background:#fff"></div><div class="t" style="left:32px;top:325px;font-weight:bold;font-size:10.6px;letter-spacing:-0.3px">AANGAZ</div><div class="t" style="left:135px;width:90px;text-align:right;top:325px">1 680,00</div><svg style="left:282px;top:326px" width="15" height="12" viewBox="0 0 15 12"><path d="M8 0.5 L0.5 0.5 L0.5 11.5 L11.5 11.5 L11.5 6" fill="none" stroke="#b3b3b3" stroke-width="1"/><path d="M3 5.3 L6.3 8.3 L12.8 1.3" fill="none" stroke="#03a0e6" stroke-width="2.8"/></svg><div class="t" style="left:346px;width:74px;text-align:right;top:325px">0,00</div><div style="position:absolute;left:432px;top:326px;width:12px;height:12px;border:1px solid #b5b5b5;background:#fff"></div><div style="position:absolute;left:452px;top:322px;width:255px;height:19px;overflow:hidden"><div class="t" style="left:4px;top:3px">Wynagrodzenie zasadnicze</div></div><div style="position:absolute;left:710px;top:322px;width:296px;height:19px;overflow:hidden"><div class="t" style="left:4px;top:3px">Brak pomniejszeń o nieobecności.</div></div><div class="t" style="left:1101px;width:62px;text-align:right;top:325px">100000</div><div class="t" style="left:1171px;top:325px;">2017-11-01</div><div style="position:absolute;left:1230px;top:322px;width:34px;height:19px;overflow:hidden"><div class="t" style="left:4px;top:3px">2017-11-01</div></div><div style="position:absolute;left:1px;top:342px;width:1263px;height:20px;background:#e8eff3"></div><div style="position:absolute;left:28px;top:342px;width:107px;height:20px;background:#fffde6"></div><div style="position:absolute;left:135px;top:342px;width:95px;height:20px;background:#91e0eb"></div><div style="position:absolute;left:346px;top:342px;width:78px;height:20px;background:#91e0eb"></div><div style="position:absolute;left:1101px;top:342px;width:65px;height:20px;background:#fffde6"></div><div style="position:absolute;left:1px;top:361px;width:1263px;height:1px;background:#dde3e8"></div><div style="position:absolute;left:27px;top:342px;width:1px;height:19px;background:#d3e2f0"></div><div style="position:absolute;left:8px;top:346px;width:12px;height:12px;border:1px solid #a8a8a8;background:#fff"></div><div class="t" style="left:32px;top:345px;font-weight:bold;font-size:10.6px;letter-spacing:-0.3px">NATURBRUTTO_OS</div><div class="t" style="left:135px;width:90px;text-align:right;top:345px">0,00</div><svg style="left:282px;top:346px" width="15" height="12" viewBox="0 0 15 12"><path d="M8 0.5 L0.5 0.5 L0.5 11.5 L11.5 11.5 L11.5 6" fill="none" stroke="#b3b3b3" stroke-width="1"/><path d="M3 5.3 L6.3 8.3 L12.8 1.3" fill="none" stroke="#03a0e6" stroke-width="2.8"/></svg><div class="t" style="left:346px;width:74px;text-align:right;top:345px">0,00</div><div style="position:absolute;left:432px;top:346px;width:12px;height:12px;border:1px solid #b5b5b5;background:#fff"></div><div style="position:absolute;left:452px;top:342px;width:255px;height:19px;overflow:hidden"><div class="t" style="left:4px;top:3px">Wynagrodzenie w naturze - ZUS - tak, podatek - tak ·</div></div><div class="t" style="left:1101px;width:62px;text-align:right;top:345px">305500</div><div class="t" style="left:1171px;top:345px;">2017-11-01</div><div style="position:absolute;left:1230px;top:342px;width:34px;height:19px;overflow:hidden"><div class="t" style="left:4px;top:3px">2017-11-01</div></div><div style="position:absolute;left:1px;top:362px;width:1263px;height:20px;background:#fff"></div><div style="position:absolute;left:28px;top:362px;width:107px;height:20px;background:#fffde6"></div><div style="position:absolute;left:135px;top:362px;width:95px;height:20px;background:#80dbe9"></div><div style="position:absolute;left:346px;top:362px;width:78px;height:20px;background:#80dbe9"></div><div style="position:absolute;left:1101px;top:362px;width:65px;height:20px;background:#fffde6"></div><div style="position:absolute;left:1px;top:381px;width:1263px;height:1px;background:#dde3e8"></div><div style="position:absolute;left:27px;top:362px;width:1px;height:19px;background:#d3e2f0"></div><div style="position:absolute;left:8px;top:366px;width:12px;height:12px;border:1px solid #a8a8a8;background:#fff"></div><div class="t" style="left:32px;top:365px;font-weight:bold;font-size:10.6px;letter-spacing:-0.3px">AEKWIWURL_W</div><div class="t" style="left:135px;width:90px;text-align:right;top:365px">0,00</div><svg style="left:282px;top:366px" width="15" height="12" viewBox="0 0 15 12"><path d="M8 0.5 L0.5 0.5 L0.5 11.5 L11.5 11.5 L11.5 6" fill="none" stroke="#b3b3b3" stroke-width="1"/><path d="M3 5.3 L6.3 8.3 L12.8 1.3" fill="none" stroke="#03a0e6" stroke-width="2.8"/></svg><div class="t" style="left:346px;width:74px;text-align:right;top:365px">0,00</div><div style="position:absolute;left:432px;top:366px;width:12px;height:12px;border:1px solid #b5b5b5;background:#fff"></div><div style="position:absolute;left:452px;top:362px;width:255px;height:19px;overflow:hidden"><div class="t" style="left:4px;top:3px">Ekwiwalent za urlop wypoczynkowy</div></div><div class="t" style="left:1101px;width:62px;text-align:right;top:365px">360000</div><div class="t" style="left:1171px;top:365px;">2017-11-01</div><div style="position:absolute;left:1230px;top:362px;width:34px;height:19px;overflow:hidden"><div class="t" style="left:4px;top:3px">2017-11-01</div></div><div style="position:absolute;left:1px;top:382px;width:1263px;height:20px;background:#e8eff3"></div><div style="position:absolute;left:28px;top:382px;width:107px;height:20px;background:#fffde6"></div><div style="position:absolute;left:135px;top:382px;width:95px;height:20px;background:#91e0eb"></div><div style="position:absolute;left:346px;top:382px;width:78px;height:20px;background:#91e0eb"></div><div style="position:absolute;left:1101px;top:382px;width:65px;height:20px;background:#fffde6"></div><div style="position:absolute;left:1px;top:401px;width:1263px;height:1px;background:#dde3e8"></div><div style="position:absolute;left:27px;top:382px;width:1px;height:19px;background:#d3e2f0"></div><div style="position:absolute;left:8px;top:386px;width:12px;height:12px;border:1px solid #a8a8a8;background:#fff"></div><div class="t" style="left:32px;top:385px;font-weight:bold;font-size:10.6px;letter-spacing:-0.3px">AEKWIWURL_D</div><div class="t" style="left:135px;width:90px;text-align:right;top:385px">0,00</div><svg style="left:282px;top:386px" width="15" height="12" viewBox="0 0 15 12"><path d="M8 0.5 L0.5 0.5 L0.5 11.5 L11.5 11.5 L11.5 6" fill="none" stroke="#b3b3b3" stroke-width="1"/><path d="M3 5.3 L6.3 8.3 L12.8 1.3" fill="none" stroke="#03a0e6" stroke-width="2.8"/></svg><div class="t" style="left:346px;width:74px;text-align:right;top:385px">0,00</div><div style="position:absolute;left:432px;top:386px;width:12px;height:12px;border:1px solid #b5b5b5;background:#fff"></div><div style="position:absolute;left:452px;top:382px;width:255px;height:19px;overflow:hidden"><div class="t" style="left:4px;top:3px">Ekwiwalent za urlop dodatkowy</div></div><div class="t" style="left:1101px;width:62px;text-align:right;top:385px">361000</div><div class="t" style="left:1171px;top:385px;">2017-11-01</div><div style="position:absolute;left:1230px;top:382px;width:34px;height:19px;overflow:hidden"><div class="t" style="left:4px;top:3px">2017-11-01</div></div><div style="position:absolute;left:1px;top:402px;width:1263px;height:20px;background:#fff"></div><div style="position:absolute;left:28px;top:402px;width:107px;height:20px;background:#fffde6"></div><div style="position:absolute;left:135px;top:402px;width:95px;height:20px;background:#80dbe9"></div><div style="position:absolute;left:346px;top:402px;width:78px;height:20px;background:#80dbe9"></div><div style="position:absolute;left:1101px;top:402px;width:65px;height:20px;background:#fffde6"></div><div style="position:absolute;left:1px;top:421px;width:1263px;height:1px;background:#dde3e8"></div><div style="position:absolute;left:27px;top:402px;width:1px;height:19px;background:#d3e2f0"></div><div style="position:absolute;left:8px;top:406px;width:12px;height:12px;border:1px solid #a8a8a8;background:#fff"></div><div class="t" style="left:32px;top:405px;font-weight:bold;font-size:10.6px;letter-spacing:-0.3px">AWYRDOMIN</div><div class="t" style="left:135px;width:90px;text-align:right;top:405px">0,00</div><svg style="left:282px;top:406px" width="15" height="12" viewBox="0 0 15 12"><path d="M8 0.5 L0.5 0.5 L0.5 11.5 L11.5 11.5 L11.5 6" fill="none" stroke="#b3b3b3" stroke-width="1"/><path d="M3 5.3 L6.3 8.3 L12.8 1.3" fill="none" stroke="#03a0e6" stroke-width="2.8"/></svg><div class="t" style="left:346px;width:74px;text-align:right;top:405px">0,00</div><div style="position:absolute;left:432px;top:406px;width:12px;height:12px;border:1px solid #b5b5b5;background:#fff"></div><div style="position:absolute;left:452px;top:402px;width:255px;height:19px;overflow:hidden"><div class="t" style="left:4px;top:3px">Wyrównanie do płacy minimalnej</div></div><div class="t" style="left:1101px;width:62px;text-align:right;top:405px">980400</div><div class="t" style="left:1171px;top:405px;">2017-11-01</div><div style="position:absolute;left:1230px;top:402px;width:34px;height:19px;overflow:hidden"><div class="t" style="left:4px;top:3px">2017-11-01</div></div><div style="position:absolute;left:1px;top:422px;width:1263px;height:20px;background:#e8eff3"></div><div style="position:absolute;left:28px;top:422px;width:107px;height:20px;background:#fffde6"></div><div style="position:absolute;left:135px;top:422px;width:95px;height:20px;background:#91e0eb"></div><div style="position:absolute;left:346px;top:422px;width:78px;height:20px;background:#91e0eb"></div><div style="position:absolute;left:1101px;top:422px;width:65px;height:20px;background:#fffde6"></div><div style="position:absolute;left:1px;top:441px;width:1263px;height:1px;background:#dde3e8"></div><div style="position:absolute;left:27px;top:422px;width:1px;height:19px;background:#d3e2f0"></div><div style="position:absolute;left:8px;top:426px;width:12px;height:12px;border:1px solid #a8a8a8;background:#fff"></div><div class="t" style="left:32px;top:425px;font-weight:bold;font-size:10.6px;letter-spacing:-0.3px">KOSZTYUP</div><div class="t" style="left:135px;width:90px;text-align:right;top:425px">111,25</div><svg style="left:282px;top:426px" width="15" height="12" viewBox="0 0 15 12"><path d="M8 0.5 L0.5 0.5 L0.5 11.5 L11.5 11.5 L11.5 6" fill="none" stroke="#b3b3b3" stroke-width="1"/><path d="M3 5.3 L6.3 8.3 L12.8 1.3" fill="none" stroke="#03a0e6" stroke-width="2.8"/></svg><div class="t" style="left:346px;width:74px;text-align:right;top:425px">0,00</div><div style="position:absolute;left:432px;top:426px;width:12px;height:12px;border:1px solid #b5b5b5;background:#fff"></div><div style="position:absolute;left:452px;top:422px;width:255px;height:19px;overflow:hidden"><div class="t" style="left:4px;top:3px">Koszty uzyskania przychodu</div></div><div style="position:absolute;left:710px;top:422px;width:296px;height:19px;overflow:hidden"><div class="t" style="left:4px;top:3px">Wartość:&nbsp;&nbsp; 111.25, Koszty w miesiącu z innych list = 0</div></div><div class="t" style="left:1101px;width:62px;text-align:right;top:425px">6500000</div><div class="t" style="left:1171px;top:425px;">2017-11-01</div><div style="position:absolute;left:1230px;top:422px;width:34px;height:19px;overflow:hidden"><div class="t" style="left:4px;top:3px">2017-11-01</div></div><div style="position:absolute;left:1px;top:442px;width:1263px;height:20px;background:#fff"></div><div style="position:absolute;left:28px;top:442px;width:107px;height:20px;background:#fffde6"></div><div style="position:absolute;left:135px;top:442px;width:95px;height:20px;background:#80dbe9"></div><div style="position:absolute;left:346px;top:442px;width:78px;height:20px;background:#80dbe9"></div><div style="position:absolute;left:1101px;top:442px;width:65px;height:20px;background:#fffde6"></div><div style="position:absolute;left:1px;top:461px;width:1263px;height:1px;background:#dde3e8"></div><div style="position:absolute;left:27px;top:442px;width:1px;height:19px;background:#d3e2f0"></div><div style="position:absolute;left:8px;top:446px;width:12px;height:12px;border:1px solid #a8a8a8;background:#fff"></div><div class="t" style="left:32px;top:445px;font-weight:bold;font-size:10.6px;letter-spacing:-0.3px">KOSZTYINNE</div><div class="t" style="left:135px;width:90px;text-align:right;top:445px">0,00</div><svg style="left:282px;top:446px" width="15" height="12" viewBox="0 0 15 12"><path d="M8 0.5 L0.5 0.5 L0.5 11.5 L11.5 11.5 L11.5 6" fill="none" stroke="#b3b3b3" stroke-width="1"/><path d="M3 5.3 L6.3 8.3 L12.8 1.3" fill="none" stroke="#03a0e6" stroke-width="2.8"/></svg><div class="t" style="left:346px;width:74px;text-align:right;top:445px">0,00</div><div style="position:absolute;left:432px;top:446px;width:12px;height:12px;border:1px solid #b5b5b5;background:#fff"></div><div style="position:absolute;left:452px;top:442px;width:255px;height:19px;overflow:hidden"><div class="t" style="left:4px;top:3px">Koszty uzyskania przychodu - inne</div></div><div style="position:absolute;left:710px;top:442px;width:296px;height:19px;overflow:hidden"><div class="t" style="left:4px;top:3px">Wartość od której naliczamy koszty inne w wysokości 0.00%</div></div><div class="t" style="left:1101px;width:62px;text-align:right;top:445px">6501000</div><div class="t" style="left:1171px;top:445px;">2017-11-01</div><div style="position:absolute;left:1230px;top:442px;width:34px;height:19px;overflow:hidden"><div class="t" style="left:4px;top:3px">2017-11-01</div></div><div style="position:absolute;left:1px;top:462px;width:1263px;height:20px;background:#e8eff3"></div><div style="position:absolute;left:28px;top:462px;width:107px;height:20px;background:#fffde6"></div><div style="position:absolute;left:135px;top:462px;width:95px;height:20px;background:#91e0eb"></div><div style="position:absolute;left:346px;top:462px;width:78px;height:20px;background:#91e0eb"></div><div style="position:absolute;left:1101px;top:462px;width:65px;height:20px;background:#fffde6"></div><div style="position:absolute;left:1px;top:481px;width:1263px;height:1px;background:#dde3e8"></div><div style="position:absolute;left:27px;top:462px;width:1px;height:19px;background:#d3e2f0"></div><div style="position:absolute;left:8px;top:466px;width:12px;height:12px;border:1px solid #a8a8a8;background:#fff"></div><div class="t" style="left:32px;top:465px;font-weight:bold;font-size:10.6px;letter-spacing:-0.3px">KOSZTYINNE0</div><div class="t" style="left:135px;width:90px;text-align:right;top:465px">0,00</div><svg style="left:282px;top:466px" width="15" height="12" viewBox="0 0 15 12"><path d="M8 0.5 L0.5 0.5 L0.5 11.5 L11.5 11.5 L11.5 6" fill="none" stroke="#b3b3b3" stroke-width="1"/><path d="M3 5.3 L6.3 8.3 L12.8 1.3" fill="none" stroke="#03a0e6" stroke-width="2.8"/></svg><div class="t" style="left:346px;width:74px;text-align:right;top:465px">0,00</div><div style="position:absolute;left:432px;top:466px;width:12px;height:12px;border:1px solid #b5b5b5;background:#fff"></div><div style="position:absolute;left:452px;top:462px;width:255px;height:19px;overflow:hidden"><div class="t" style="left:4px;top:3px">Koszty uzyskania przychodu - inne0</div></div><div class="t" style="left:1101px;width:62px;text-align:right;top:465px">6501003</div><div class="t" style="left:1171px;top:465px;">2017-11-01</div><div style="position:absolute;left:1230px;top:462px;width:34px;height:19px;overflow:hidden"><div class="t" style="left:4px;top:3px">2017-11-01</div></div><div style="position:absolute;left:1px;top:482px;width:1263px;height:20px;background:#fff"></div><div style="position:absolute;left:28px;top:482px;width:107px;height:20px;background:#fffde6"></div><div style="position:absolute;left:135px;top:482px;width:95px;height:20px;background:#80dbe9"></div><div style="position:absolute;left:346px;top:482px;width:78px;height:20px;background:#80dbe9"></div><div style="position:absolute;left:1101px;top:482px;width:65px;height:20px;background:#fffde6"></div><div style="position:absolute;left:1px;top:501px;width:1263px;height:1px;background:#dde3e8"></div><div style="position:absolute;left:27px;top:482px;width:1px;height:19px;background:#d3e2f0"></div><div style="position:absolute;left:8px;top:486px;width:12px;height:12px;border:1px solid #a8a8a8;background:#fff"></div><div class="t" style="left:32px;top:485px;font-weight:bold;font-size:10.6px;letter-spacing:-0.3px">KOSZTYUP_N</div><div class="t" style="left:135px;width:90px;text-align:right;top:485px">0,00</div><svg style="left:282px;top:486px" width="15" height="12" viewBox="0 0 15 12"><path d="M8 0.5 L0.5 0.5 L0.5 11.5 L11.5 11.5 L11.5 6" fill="none" stroke="#b3b3b3" stroke-width="1"/><path d="M3 5.3 L6.3 8.3 L12.8 1.3" fill="none" stroke="#03a0e6" stroke-width="2.8"/></svg><div class="t" style="left:346px;width:74px;text-align:right;top:485px">0,00</div><div style="position:absolute;left:432px;top:486px;width:12px;height:12px;border:1px solid #b5b5b5;background:#fff"></div><div style="position:absolute;left:452px;top:482px;width:255px;height:19px;overflow:hidden"><div class="t" style="left:4px;top:3px">Koszty uzyskania przychodu - Natura</div></div><div style="position:absolute;left:710px;top:482px;width:296px;height:19px;overflow:hidden"><div class="t" style="left:4px;top:3px">Wartość:&nbsp;&nbsp;&nbsp;&nbsp;&nbsp; 0.00&nbsp; -&gt; koszty w miesiącu większe niż limit mie</div></div><div class="t" style="left:1101px;width:62px;text-align:right;top:485px">6502000</div><div class="t" style="left:1171px;top:485px;">2017-11-01</div><div style="position:absolute;left:1230px;top:482px;width:34px;height:19px;overflow:hidden"><div class="t" style="left:4px;top:3px">2017-11-01</div></div><div style="position:absolute;left:1px;top:502px;width:1263px;height:20px;background:#e8eff3"></div><div style="position:absolute;left:28px;top:502px;width:107px;height:20px;background:#fffde6"></div><div style="position:absolute;left:135px;top:502px;width:95px;height:20px;background:#91e0eb"></div><div style="position:absolute;left:346px;top:502px;width:78px;height:20px;background:#91e0eb"></div><div style="position:absolute;left:1101px;top:502px;width:65px;height:20px;background:#fffde6"></div><div style="position:absolute;left:1px;top:521px;width:1263px;height:1px;background:#dde3e8"></div><div style="position:absolute;left:27px;top:502px;width:1px;height:19px;background:#d3e2f0"></div><div style="position:absolute;left:8px;top:506px;width:12px;height:12px;border:1px solid #a8a8a8;background:#fff"></div><div class="t" style="left:32px;top:505px;font-weight:bold;font-size:10.6px;letter-spacing:-0.3px">DOCHODNAR</div><div class="t" style="left:135px;width:90px;text-align:right;top:505px">0,00</div><svg style="left:282px;top:506px" width="15" height="12" viewBox="0 0 15 12"><path d="M8 0.5 L0.5 0.5 L0.5 11.5 L11.5 11.5 L11.5 6" fill="none" stroke="#b3b3b3" stroke-width="1"/><path d="M3 5.3 L6.3 8.3 L12.8 1.3" fill="none" stroke="#03a0e6" stroke-width="2.8"/></svg><div class="t" style="left:346px;width:74px;text-align:right;top:505px">0,00</div><div style="position:absolute;left:432px;top:506px;width:12px;height:12px;border:1px solid #b5b5b5;background:#fff"></div><div style="position:absolute;left:452px;top:502px;width:255px;height:19px;overflow:hidden"><div class="t" style="left:4px;top:3px">Dochód narastająco od początku roku</div></div><div class="t" style="left:1101px;width:62px;text-align:right;top:505px">7000000</div><div class="t" style="left:1171px;top:505px;">2017-11-01</div><div style="position:absolute;left:1230px;top:502px;width:34px;height:19px;overflow:hidden"><div class="t" style="left:4px;top:3px">2017-11-01</div></div><div style="position:absolute;left:1px;top:522px;width:1263px;height:20px;background:#fff"></div><div style="position:absolute;left:28px;top:522px;width:107px;height:20px;background:#fffde6"></div><div style="position:absolute;left:135px;top:522px;width:95px;height:20px;background:#80dbe9"></div><div style="position:absolute;left:346px;top:522px;width:78px;height:20px;background:#80dbe9"></div><div style="position:absolute;left:1101px;top:522px;width:65px;height:20px;background:#fffde6"></div><div style="position:absolute;left:1px;top:541px;width:1263px;height:1px;background:#dde3e8"></div><div style="position:absolute;left:27px;top:522px;width:1px;height:19px;background:#d3e2f0"></div><div style="position:absolute;left:8px;top:526px;width:12px;height:12px;border:1px solid #a8a8a8;background:#fff"></div><div class="t" style="left:32px;top:525px;font-weight:bold;font-size:10.6px;letter-spacing:-0.3px">DOCHOD</div><div class="t" style="left:135px;width:90px;text-align:right;top:525px">1 338,00</div><svg style="left:282px;top:526px" width="15" height="12" viewBox="0 0 15 12"><path d="M8 0.5 L0.5 0.5 L0.5 11.5 L11.5 11.5 L11.5 6" fill="none" stroke="#b3b3b3" stroke-width="1"/><path d="M3 5.3 L6.3 8.3 L12.8 1.3" fill="none" stroke="#03a0e6" stroke-width="2.8"/></svg><div class="t" style="left:346px;width:74px;text-align:right;top:525px">0,00</div><div style="position:absolute;left:432px;top:526px;width:12px;height:12px;border:1px solid #b5b5b5;background:#fff"></div><div style="position:absolute;left:452px;top:522px;width:255px;height:19px;overflow:hidden"><div class="t" style="left:4px;top:3px">Dochód - podstawa opodatkowania</div></div><div style="position:absolute;left:710px;top:522px;width:296px;height:19px;overflow:hidden"><div class="t" style="left:4px;top:3px">&nbsp;&nbsp; 1680.00 -&nbsp;&nbsp;&nbsp; 111.25 -&nbsp;&nbsp;&nbsp; 230.33</div></div><div class="t" style="left:1101px;width:62px;text-align:right;top:525px">8005000</div><div class="t" style="left:1171px;top:525px;">2017-11-01</div><div style="position:absolute;left:1230px;top:522px;width:34px;height:19px;overflow:hidden"><div class="t" style="left:4px;top:3px">2017-11-01</div></div><div style="position:absolute;left:1px;top:322px;width:1263px;height:2px;background:#0b7ac0"></div><div style="position:absolute;left:1px;top:340px;width:1263px;height:2px;background:#0b7ac0"></div><div style="position:absolute;left:28px;top:322px;width:107px;height:20px;border:2px solid #0b7ac0;background:#fffde6"></div><div class="t" style="left:32px;top:325px;font-weight:bold;font-size:10.6px;letter-spacing:-0.3px">AANGAZ</div><div style="position:absolute;left:1264px;top:322px;width:1px;height:221px;background:#cfcfcf"></div><div style="position:absolute;left:1px;top:542px;width:1263px;height:1px;background:#cfcfcf"></div><svg style="left:1268px;top:327px" width="8" height="5" viewBox="0 0 8 5"><path d="M0.5 4.5 L4 1 L7.5 4.5" fill="none" stroke="#c8c8c8" stroke-width="1"/></svg><div style="position:absolute;left:1268px;top:335px;width:7px;height:134px;background:#b8b8b8"></div><svg style="left:1268px;top:533px" width="8" height="5" viewBox="0 0 8 5"><path d="M0.5 0.5 L4 4 L7.5 0.5" fill="none" stroke="#c8c8c8" stroke-width="1"/></svg><svg style="left:5px;top:546px" width="6" height="8" viewBox="0 0 6 8"><path d="M5 0.5 L1 4 L5 7.5" fill="none" stroke="#bbb" stroke-width="1"/></svg><div style="position:absolute;left:14px;top:547px;width:1209px;height:6px;background:#b8b8b8"></div><svg style="left:1255px;top:546px" width="6" height="8" viewBox="0 0 6 8"><path d="M1 0.5 L5 4 L1 7.5" fill="none" stroke="#bbb" stroke-width="1"/></svg><div style="position:absolute;left:1px;top:359px;width:687px;height:44px;border:3px solid #3b3bc6"></div><div style="position:absolute;left:1px;top:556px;width:1277px;height:1px;background:#dadada"></div><div style="position:absolute;left:1px;top:557px;width:1277px;height:29px;background:#e9e9e9"></div><svg style="left:7px;top:565px" width="15" height="15" viewBox="0 0 15 15"><rect x="0" y="1" width="1.6" height="13" fill="#3d72b8"/><rect x="0" y="8.5" width="14" height="1.4" fill="#3d72b8"/><rect x="0" y="9" width="5.5" height="5" fill="#3d72b8"/><rect x="7" y="11" width="2.5" height="2.5" fill="#b5b5b5"/><rect x="11" y="11" width="2.5" height="2.5" fill="#b5b5b5"/><circle cx="8.5" cy="3.5" r="3" fill="#fff" stroke="#3d72b8" stroke-width="1.5"/><path d="M10.6 5.6 L12.8 7.6" stroke="#3d72b8" stroke-width="1.6"/></svg><div class="t" style="left:27px;top:564px;font-size:11px;color:#111;line-height:16px">Dane naliczenia</div><svg style="left:108px;top:569px" width="9" height="6" viewBox="0 0 9 6"><path d="M0.8 0.8 L4.5 4.5 L8.2 0.8" fill="none" stroke="#222" stroke-width="1.5"/></svg><svg style="left:141px;top:567px" width="5" height="7" viewBox="0 0 5 7"><path d="M4.5 0 L0 3.5 L4.5 7 Z" fill="#b5c7d8"/></svg><div style="position:absolute;left:155px;top:557px;width:61px;height:22px;background:#fff;border:1px solid #d6d6d6;border-top:none;border-radius:0 0 3px 3px"></div><div class="t" style="left:155px;width:61px;text-align:center;top:561px;color:#444">Składniki</div><div style="position:absolute;left:218px;top:557px;width:98px;height:22px;background:#fff;border:1px solid #d6d6d6;border-top:none;border-radius:0 0 3px 3px"></div><div class="t" style="left:218px;width:98px;text-align:center;top:561px;color:#444">Niestandardowe</div><div style="position:absolute;left:319px;top:557px;width:43px;height:22px;background:#fff;border:1px solid #d6d6d6;border-top:none;border-radius:0 0 3px 3px"></div><div class="t" style="left:319px;width:43px;text-align:center;top:561px;color:#444">Ilości</div><div style="position:absolute;left:365px;top:557px;width:107px;height:22px;background:#fff;border:1px solid #d6d6d6;border-top:none;border-radius:0 0 3px 3px"></div><div class="t" style="left:365px;width:107px;text-align:center;top:561px;color:#444">Wyn. chor. i zasiłki</div><div style="position:absolute;left:475px;top:557px;width:36px;height:22px;background:#fff;border:1px solid #d6d6d6;border-top:none;border-radius:0 0 3px 3px"></div><div class="t" style="left:475px;width:36px;text-align:center;top:561px;color:#444">ZUS</div><div style="position:absolute;left:515px;top:557px;width:91px;height:22px;background:#fff;border:1px solid #d6d6d6;border-top:none;border-radius:0 0 3px 3px"></div><div class="t" style="left:515px;width:91px;text-align:center;top:561px;color:#444">Wyn. w naturze</div><div style="position:absolute;left:609px;top:557px;width:59px;height:22px;background:#fff;border:1.5px solid #0b7ac0;border-top:none;border-bottom:2.5px solid #0b7ac0;border-radius:0 0 3px 3px"></div><div class="t" style="left:609px;width:59px;text-align:center;top:561px;font-weight:bold;color:#1b7fc0">Podatek</div><div style="position:absolute;left:670px;top:557px;width:69px;height:22px;background:#fff;border:1px solid #d6d6d6;border-top:none;border-radius:0 0 3px 3px"></div><div class="t" style="left:670px;width:69px;text-align:center;top:561px;color:#444">Potrącenia</div><div style="position:absolute;left:743px;top:557px;width:57px;height:22px;background:#fff;border:1px solid #d6d6d6;border-top:none;border-radius:0 0 3px 3px"></div><div class="t" style="left:743px;width:57px;text-align:center;top:561px;color:#444">Wypłata</div><div style="position:absolute;left:803px;top:557px;width:133px;height:22px;background:#fff;border:1px solid #d6d6d6;border-top:none;border-radius:0 0 3px 3px"></div><div class="t" style="left:803px;width:133px;text-align:center;top:561px;color:#444">Najważniejsze składniki</div><div style="position:absolute;left:939px;top:557px;width:181px;height:22px;background:#fff;border:1px solid #d6d6d6;border-top:none;border-radius:0 0 3px 3px"></div><div class="t" style="left:939px;width:181px;text-align:center;top:561px;color:#444">Doraźna zmiana sposobu wypłaty</div><div style="position:absolute;left:1123px;top:557px;width:137px;height:22px;overflow:hidden"><div style="position:absolute;left:0;top:0;width:200px;height:22px;background:#fff;border:1px solid #d6d6d6;border-top:none;border-radius:0 0 3px 3px"></div><div class="t" style="left:9px;top:4px;color:#444">Błędy i informacje przy naliczaniu</div></div><svg style="left:1267px;top:567px" width="5" height="8" viewBox="0 0 5 8"><path d="M0 0 L4.5 3.8 L0 7.6 Z" fill="#4a78a8"/></svg><div style="position:absolute;left:0px;top:40px;width:1px;height:548px;background:#00a2e1"></div><div style="position:absolute;left:1278px;top:40px;width:2px;height:548px;background:#00a2e1"></div><div style="position:absolute;left:0px;top:586px;width:1280px;height:1px;background:#00a2e1"></div></body></html>
